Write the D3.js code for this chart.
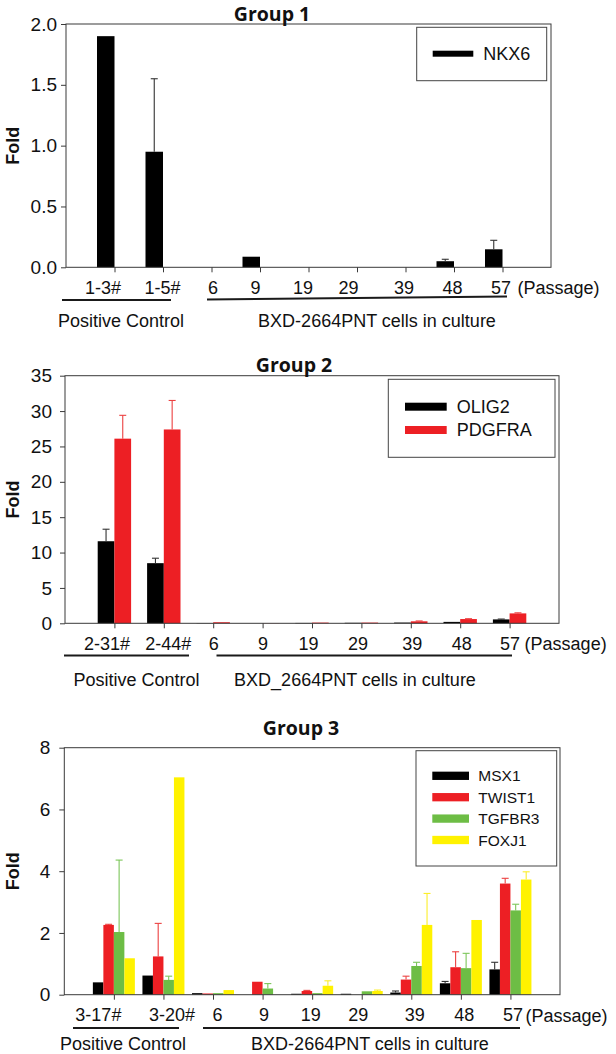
<!DOCTYPE html>
<html><head><meta charset="utf-8">
<script src="https://cdn.jsdelivr.net/npm/d3@7"></script>
<style>body{margin:0;background:#fff}svg{display:block}</style>
</head><body>
<svg id="c" width="616" height="1054"></svg>
<script>
// ---------- data ----------
const passages = ["6","9","19","29","39","48","57"];
const g1Categories = ["1-3#","1-5#"].concat(passages);
const g2Categories = ["2-31#","2-44#"].concat(passages);
const g3Categories = ["3-17#","3-20#"].concat(passages);

const g1Ticks = [0, 0.5, 1.0, 1.5, 2.0];
const g2Ticks = [0, 5, 10, 15, 20, 25, 30, 35];
const g3Ticks = [0, 2, 4, 6, 8];

const nkx6    = [1.90, 0.95, 0, 0.087, 0, 0, 0, 0.05, 0.148];
const nkx6Err = [0, 0.60, 0, 0, 0, 0, 0, 0.016, 0.074];

const olig2     = [11.6, 8.5, 0.03, 0, 0.05, 0.07, 0.10, 0.20, 0.55];
const olig2Err  = [1.7, 0.7, 0, 0, 0, 0, 0, 0, 0.05];
const pdgfra    = [26.1, 27.4, 0.15, 0.02, 0.10, 0.10, 0.28, 0.60, 1.40];
const pdgfraErr = [3.3, 4.1, 0, 0, 0, 0, 0.05, 0.05, 0.08];

const msx1      = [0.40, 0.62, 0.05, 0, 0.03, 0.03, 0.07, 0.37, 0.82];
const msx1Err   = [0, 0, 0, 0, 0, 0, 0.05, 0.06, 0.23];
const twist1    = [2.26, 1.24, 0.04, 0.42, 0.12, 0, 0.49, 0.89, 3.60];
const twist1Err = [0.02, 1.07, 0, 0, 0.02, 0, 0.11, 0.50, 0.17];
const tgfbr3    = [2.03, 0.48, 0.05, 0.20, 0.05, 0.11, 0.93, 0.86, 2.73];
const tgfbr3Err = [2.33, 0.12, 0, 0.16, 0, 0, 0.12, 0.48, 0.20];
const foxj1     = [1.18, 7.04, 0.15, 0, 0.29, 0.12, 2.26, 2.42, 3.73];
const foxj1Err  = [0, 0, 0, 0, 0.16, 0.03, 1.02, 0, 0.25];

// ---------- styles ----------
const BLACK = "#000000", RED = "#ed1f24", GREEN = "#6dbd45", YELLOW = "#fff200";
const ERR = {"#000000":"#333333", "#ed1f24":"#ec4040", "#6dbd45":"#7cc65a", "#fff200":"#fbee2a"};
const ARIAL = "'Liberation Sans', Arial, sans-serif";

const svg = d3.select("#c");

function panel(cfg) {
  const g = svg.append("g");
  const x = d3.scalePoint().domain(cfg.cats).range([cfg.left, cfg.right]).padding(1);
  const y = d3.scaleLinear().domain([0, cfg.ymax]).range([cfg.bottom, cfg.top]);
  const sub = d3.scaleBand().domain(cfg.series.map(s => s.name)).range(cfg.groupRange);

  // bars
  cfg.series.forEach(s => {
    const rows = s.values.map((v, i) => ({v, e: s.err[i], c: cfg.cats[i]}));
    g.append("g").selectAll("rect").data(rows).join("rect")
      .attr("x", d => x(d.c) + sub(s.name))
      .attr("width", sub.bandwidth())
      .attr("y", d => y(d.v))
      .attr("height", d => y(0) - y(d.v))
      .attr("fill", s.color);
  });
  // error bars
  cfg.series.forEach(s => {
    const rows = s.values.map((v, i) => ({v, e: s.err[i], c: cfg.cats[i]})).filter(d => d.e > 0);
    const eg = g.append("g").attr("stroke", ERR[s.color]).attr("stroke-width", 1.1);
    rows.forEach(d => {
      const cx = x(d.c) + sub(s.name) + sub.bandwidth() / 2;
      eg.append("line").attr("x1", cx).attr("x2", cx).attr("y1", y(d.v)).attr("y2", y(d.v + d.e));
      eg.append("line").attr("x1", cx - cfg.cap).attr("x2", cx + cfg.cap)
        .attr("y1", y(d.v + d.e)).attr("y2", y(d.v + d.e));
    });
  });

  // frame
  g.append("rect").attr("x", cfg.left).attr("y", cfg.top)
    .attr("width", cfg.right - cfg.left).attr("height", cfg.bottom - cfg.top)
    .attr("fill", "none").attr("stroke", "#3a3a3a").attr("stroke-width", 1);

  // y axis
  const ya = g.append("g").attr("transform", `translate(${cfg.left},0)`)
    .call(d3.axisLeft(y).tickValues(cfg.ticks).tickSize(5).tickPadding(cfg.yPad).tickFormat(cfg.fmt));
  ya.select(".domain").remove();
  ya.selectAll("line").attr("stroke", "#3a3a3a");
  ya.selectAll("text").attr("font-family", ARIAL).attr("font-size", 19).attr("fill", "#111");

  // x axis
  const xa = g.append("g").attr("transform", `translate(0,${cfg.bottom})`)
    .call(d3.axisBottom(x).tickSize(5).tickPadding(9));
  xa.select(".domain").remove();
  xa.selectAll("line").attr("stroke", "#3a3a3a");
  xa.selectAll("text").attr("font-family", ARIAL).attr("font-size", 18).attr("fill", "#111")
    .attr("dx", (d, i) => (cfg.labelShift[i] || 0));

  // (Passage)
  g.append("text").attr("x", x(cfg.cats[cfg.cats.length - 1]) + 15).attr("y", cfg.bottom + 27)
    .attr("font-family", ARIAL).attr("font-size", 18).attr("fill", "#111").text("(Passage)");

  // underlines
  cfg.lines.forEach(l => {
    g.append("line").attr("x1", l[0]).attr("y1", l[1]).attr("x2", l[2]).attr("y2", l[3])
      .attr("stroke", "#1a1a1a").attr("stroke-width", 2);
  });
  // group texts
  cfg.groupTexts.forEach(t => {
    g.append("text").attr("x", t[0]).attr("y", t[1]).attr("text-anchor", "middle")
      .attr("font-family", ARIAL).attr("font-size", 18).attr("fill", "#111").text(t[2]);
  });

  // title
  g.append("text").attr("x", cfg.titleX).attr("y", cfg.titleY).attr("text-anchor", "middle")
    .attr("font-family", "'Open Sans', sans-serif").attr("font-weight", 700).attr("font-size", 19.5)
    .attr("fill", "#111").text(cfg.title);

  // y label
  g.append("text").attr("transform", `translate(18.5,${(cfg.top + cfg.bottom) / 2}) rotate(-90)`)
    .attr("text-anchor", "middle").attr("font-family", ARIAL).attr("font-weight", 700)
    .attr("font-size", 18).attr("fill", "#111").text("Fold");

  // legend
  const L = cfg.legend;
  g.append("rect").attr("x", L.x).attr("y", L.y).attr("width", L.w).attr("height", L.h)
    .attr("fill", "#fff").attr("stroke", "#444").attr("stroke-width", 1);
  cfg.series.forEach((s, i) => {
    const cy = L.row0 + i * L.dy;
    g.append("rect").attr("x", L.sx).attr("y", cy - L.sh / 2).attr("width", L.sw).attr("height", L.sh)
      .attr("fill", s.color);
    g.append("text").attr("x", L.tx).attr("y", cy).attr("dy", "0.36em")
      .attr("font-family", ARIAL).attr("font-size", L.fs).attr("fill", "#111").text(s.name);
  });
}

panel({
  title: "Group 1", titleX: 272, titleY: 20.5,
  cats: g1Categories, ymax: 2, ticks: g1Ticks, fmt: d3.format(".1f"), yPad: 4,
  left: 66, right: 551, top: 24, bottom: 267.3,
  groupRange: [-17.5, 0], cap: 3.5,
  labelShift: [-12, -1, 1, -5, -6, -9, -2, -2, -2],
  series: [{name: "NKX6", values: nkx6, err: nkx6Err, color: BLACK}],
  lines: [[62, 300, 171, 300], [207, 299.5, 507, 296.5]],
  groupTexts: [[121, 327, "Positive Control"], [377, 327, "BXD-2664PNT cells in culture"]],
  legend: {x: 416.7, y: 27.3, w: 130, h: 53.4, sx: 432.7, sw: 40.6, sh: 6, row0: 53.7, dy: 0, tx: 483.3, fs: 18}
});

panel({
  title: "Group 2", titleX: 294, titleY: 372,
  cats: g2Categories, ymax: 35, ticks: g2Ticks, fmt: d3.format("d"), yPad: 8,
  left: 65, right: 559, top: 375.7, bottom: 623.3,
  groupRange: [-16.7, 16.7], cap: 3.5,
  labelShift: [-8, 4, 0, 0, -4, -4, 1, 1, 0],
  series: [{name: "OLIG2", values: olig2, err: olig2Err, color: BLACK},
           {name: "PDGFRA", values: pdgfra, err: pdgfraErr, color: RED}],
  lines: [[64, 655.5, 189, 655.5], [216.5, 655.5, 512, 655.5]],
  groupTexts: [[136.5, 686, "Positive Control"], [355, 686, "BXD_2664PNT cells in culture"]],
  legend: {x: 388.3, y: 379.3, w: 166.7, h: 78, sx: 405, sw: 41.7, sh: 8, row0: 406.7, dy: 23.3, tx: 456.7, fs: 18}
});

panel({
  title: "Group 3", titleX: 301, titleY: 735,
  cats: g3Categories, ymax: 8, ticks: g3Ticks, fmt: d3.format("d"), yPad: 9,
  left: 64.3, right: 560, top: 747.7, bottom: 994.7,
  groupRange: [-21, 21], cap: 3.5,
  labelShift: [-16, 8, 4, 1, -2, -4, 3, 3, 2],
  series: [{name: "MSX1", values: msx1, err: msx1Err, color: BLACK},
           {name: "TWIST1", values: twist1, err: twist1Err, color: RED},
           {name: "TGFBR3", values: tgfbr3, err: tgfbr3Err, color: GREEN},
           {name: "FOXJ1", values: foxj1, err: foxj1Err, color: YELLOW}],
  lines: [[73, 1028, 179, 1028], [203, 1028, 520, 1028]],
  groupTexts: [[123, 1049.5, "Positive Control"], [370, 1049.5, "BXD-2664PNT cells in culture"]],
  legend: {x: 416, y: 750.7, w: 140.7, h: 115.3, sx: 432.3, sw: 36.7, sh: 8.3, row0: 775.8, dy: 21.4, tx: 478.3, fs: 15.5}
});
</script>
</body></html>
